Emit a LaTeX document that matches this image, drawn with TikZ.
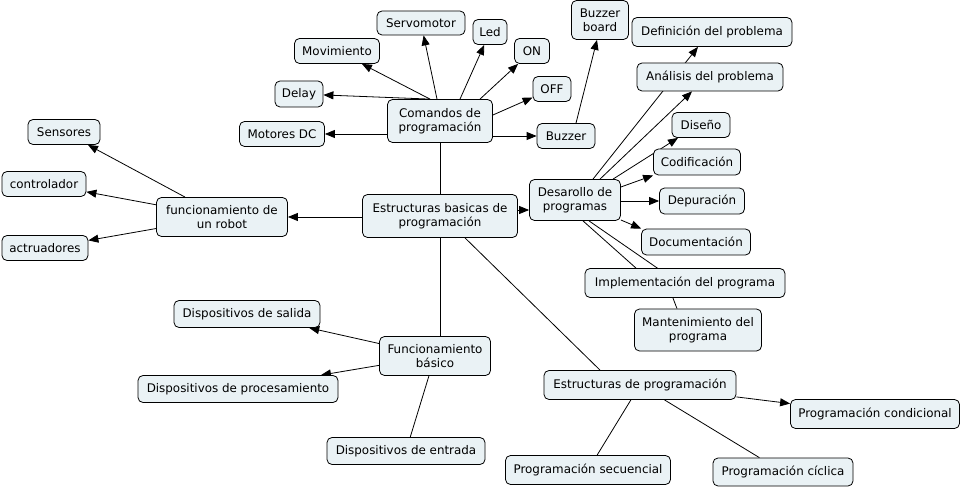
\documentclass[tikz,border=0pt]{standalone}
\usepackage{fontspec}
\setmainfont{DejaVu Sans}
\usetikzlibrary{arrows.meta}
\definecolor{nodefill}{RGB}{234,242,245}
\pgfdeclarelayer{bg}
\pgfdeclarelayer{edges}
\pgfsetlayers{bg,edges,main}
\begin{document}
\begin{tikzpicture}[x=1pt,y=-1pt,
  box/.style={draw=black, line width=0.8pt, rounded corners=5pt, fill=nodefill,
    align=center, inner xsep=2pt, inner ysep=3pt, minimum height=25pt,
    font=\fontsize{11.9}{14}\selectfont},
  arr/.style={draw, line width=0.8pt, -{Triangle[length=10pt,width=8pt]}},
  ln/.style={draw, line width=0.8pt}]
\useasboundingbox (0,0) rectangle (962,489);
% nodes
\node[box, minimum width=72pt] (sens) at (64,132) {Sensores};
\node[box, minimum width=84pt] (ctrl) at (44,184) {controlador};
\node[box, minimum width=86pt] (act) at (45,248) {actruadores};
\node[box, minimum width=131pt, minimum height=39pt] (robot) at (222,217) {funcionamiento de\\un robot};
\node[box, minimum width=85pt] (md) at (282,134) {Motores DC};
\node[box, minimum width=48pt, minimum height=26pt] (delay) at (299,94) {Delay};
\node[box, minimum width=85pt] (mov) at (337,51) {Movimiento};
\node[box, minimum width=88pt, minimum height=24pt] (servo) at (421,23) {Servomotor};
\node[box, minimum width=34pt] (led) at (490,32) {Led};
\node[box, minimum width=35pt] (on) at (532,51) {ON};
\node[box, minimum width=38pt] (off) at (552,89) {OFF};
\node[box, minimum width=105pt, minimum height=43pt] (cmd) at (440,121) {Comandos de\\programación};
\node[box, minimum width=58pt] (buz) at (566,136) {Buzzer};
\node[box, minimum width=57pt, minimum height=39pt] (bb) at (600,20) {Buzzer\\board};
\node[box, minimum width=160pt, minimum height=29pt] (def) at (712,32) {Definición del problema};
\node[box, minimum width=146pt, minimum height=28pt] (ana) at (710,77) {Análisis del problema};
\node[box, minimum width=58pt] (dis) at (701,125) {Diseño};
\node[box, minimum width=87pt, minimum height=26pt] (cod) at (697,162) {Codificación};
\node[box, minimum width=85pt, minimum height=26pt] (dep) at (702,201) {Depuración};
\node[box, minimum width=109pt, minimum height=26pt] (doc) at (696,242) {Documentación};
\node[box, minimum width=91pt, minimum height=41pt] (des) at (575,200) {Desarollo de\\programas};
\node[box, minimum width=200pt, minimum height=29pt] (imp) at (685,283) {Implementación del programa};
\node[box, minimum width=127pt, minimum height=42pt] (man) at (698,330) {Mantenimiento del\\programa};
\node[box, minimum width=155pt, minimum height=43pt] (ebp) at (440,216) {Estructuras basicas de\\programación};
\node[box, minimum width=111pt, minimum height=39pt] (fb) at (435,356) {Funcionamiento\\básico};
\node[box, minimum width=146pt, minimum height=27pt] (ds) at (247,314) {Dispositivos de salida};
\node[box, minimum width=200pt, minimum height=27pt] (dp) at (238,389) {Dispositivos de procesamiento};
\node[box, minimum width=158pt, minimum height=27pt] (de) at (406,451) {Dispositivos de entrada};
\node[box, minimum width=192pt, minimum height=29pt] (ep) at (640,385) {Estructuras de programación};
\node[box, minimum width=169pt, minimum height=29pt] (pc) at (875,414) {Programación condicional};
\node[box, minimum width=165pt, minimum height=29pt] (psec) at (588,470) {Programación secuencial};
\node[box, minimum width=140pt, minimum height=28pt] (pcic) at (783,472) {Programación cíclica};
\coordinate (bend) at (663,272);
\begin{pgfonlayer}{bg}
\fill[white] (0,0) rectangle (962,489);
\end{pgfonlayer}
\begin{pgfonlayer}{edges}
% central
\draw[arr] (ebp.west |- robot.east) -- (robot.east);
\draw[arr] (robot) -- (sens);
\draw[arr] (robot) -- (ctrl);
\draw[arr] (robot) -- (act);
\draw[ln] (ebp.north) -- (ebp.north |- cmd.south);
% comandos
\draw[arr] (cmd.west |- md.east) -- (md.east);
\draw[arr] ([xshift=-10pt]cmd.north) -- (delay);
\draw[arr] ([xshift=-10pt]cmd.north) -- (mov);
\draw[arr] ([xshift=-3pt]cmd.north) -- (servo);
\draw[arr] ([xshift=20pt]cmd.north) -- (led);
\draw[arr] ([xshift=40pt]cmd.north) -- (on);
\draw[arr] ([yshift=6pt]cmd.east) -- (off);
\draw[arr] (cmd.east |- buz.west) -- (buz.west);
\draw[arr] ([xshift=10pt]buz.north) -- ([xshift=-3pt]bb.south);
% desarollo
\draw[arr] ([yshift=6pt]ebp.east) -- ([yshift=-10pt]des.west);
\draw[arr] ([xshift=18pt]des.north) -- ([xshift=-14pt]def.south);
\draw[arr] ([xshift=25pt]des.north) -- ([xshift=-18pt]ana.south);
\draw[arr] ([xshift=38pt]des.north) -- ([xshift=-23pt]dis.south);
\draw[arr] ([yshift=13pt]des.east) -- (cod.south west);
\draw[arr] (des.east |- dep.west) -- (dep.west);
\draw[arr] ([yshift=-20pt]des.east) -- (doc.north west);
\draw[ln] ([xshift=8pt]des.south) -- ([xshift=-49pt]imp.north);
\draw[ln] ([xshift=14pt]des.south) -- (bend) -- ([xshift=-21pt]man.north);
% funcionamiento basico
\draw[ln] (ebp.south) -- (ebp.south |- fb.north);
\draw[arr] (fb) -- (ds);
\draw[arr] (fb) -- (dp);
\draw[ln] (fb) -- (de);
% estructuras de programacion
\draw[ln] ([xshift=25pt]ebp.south) -- ([xshift=-40pt]ep.north);
\draw[arr] (ep) -- (pc);
\draw[ln] (ep) -- (psec);
\draw[ln] (ep) -- (pcic);
\end{pgfonlayer}
\end{tikzpicture}
\end{document}
